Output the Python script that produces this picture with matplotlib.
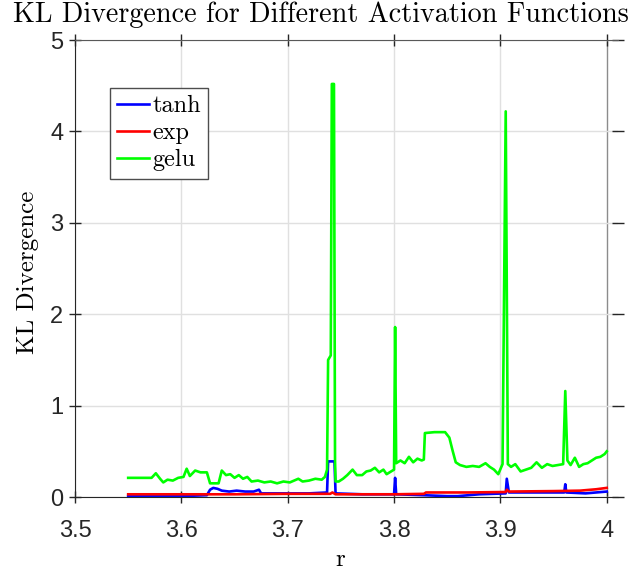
import numpy as np
import matplotlib.pyplot as plt

# values
tanh_r = [3.550, 3.600, 3.624, 3.627, 3.630, 3.634, 3.638, 3.645, 3.652, 3.660,
          3.668, 3.673, 3.675, 3.700, 3.720, 3.737, 3.738, 3.744, 3.745, 3.770,
          3.800, 3.801, 3.802, 3.828, 3.850, 3.860, 3.880, 3.905, 3.906, 3.908,
          3.930, 3.960, 3.961, 3.962, 3.980, 4.000]
tanh_kl = [0.01, 0.01, 0.02, 0.08, 0.10, 0.09, 0.07, 0.06, 0.07, 0.06,
           0.06, 0.08, 0.04, 0.04, 0.04, 0.05, 0.39, 0.39, 0.04, 0.03,
           0.03, 0.21, 0.03, 0.02, 0.01, 0.01, 0.03, 0.04, 0.20, 0.05,
           0.05, 0.05, 0.14, 0.05, 0.04, 0.06]

exp_r = [3.550, 3.650, 3.700, 3.740, 3.742, 3.745, 3.800, 3.828, 3.830, 3.870,
         3.905, 3.906, 3.908, 3.950, 3.975, 3.990, 4.000]
exp_kl = [0.03, 0.03, 0.035, 0.035, 0.05, 0.03, 0.03, 0.035, 0.05, 0.05,
          0.055, 0.08, 0.06, 0.065, 0.07, 0.085, 0.10]

gelu_r = [3.550, 3.572, 3.576, 3.580, 3.583, 3.587, 3.592, 3.597, 3.602, 3.605,
          3.608, 3.613, 3.618, 3.624, 3.627, 3.635, 3.638, 3.642, 3.646, 3.650,
          3.654, 3.658, 3.662, 3.666, 3.672, 3.678, 3.684, 3.690, 3.696, 3.702,
          3.710, 3.714, 3.720, 3.726, 3.732, 3.735, 3.737, 3.738, 3.739, 3.7405,
          3.7415, 3.7435, 3.7445, 3.745, 3.748, 3.752, 3.756, 3.761, 3.765, 3.770,
          3.774, 3.778, 3.782, 3.786, 3.790, 3.793, 3.800, 3.801, 3.802, 3.806,
          3.810, 3.814, 3.818, 3.822, 3.826, 3.828, 3.829, 3.838, 3.848, 3.852,
          3.855, 3.858, 3.862, 3.868, 3.874, 3.880, 3.886, 3.890, 3.894, 3.898,
          3.902, 3.905, 3.907, 3.910, 3.914, 3.919, 3.924, 3.929, 3.934, 3.939,
          3.944, 3.949, 3.954, 3.959, 3.961, 3.963, 3.966, 3.970, 3.974, 3.978,
          3.982, 3.986, 3.990, 3.994, 3.998, 4.000]
gelu_kl = [0.21, 0.21, 0.26, 0.20, 0.16, 0.19, 0.18, 0.21, 0.22, 0.31,
           0.23, 0.29, 0.27, 0.27, 0.15, 0.15, 0.29, 0.24, 0.25, 0.21,
           0.24, 0.20, 0.22, 0.17, 0.18, 0.16, 0.17, 0.15, 0.17, 0.16,
           0.20, 0.17, 0.18, 0.20, 0.19, 0.22, 0.30, 1.50, 1.52, 1.55,
           4.52, 4.52, 0.40, 0.17, 0.17, 0.20, 0.24, 0.30, 0.24, 0.24,
           0.28, 0.29, 0.32, 0.27, 0.30, 0.25, 0.30, 1.86, 0.37, 0.40,
           0.37, 0.44, 0.38, 0.42, 0.40, 0.41, 0.70, 0.71, 0.71, 0.65,
           0.51, 0.38, 0.35, 0.33, 0.34, 0.33, 0.37, 0.33, 0.30, 0.25,
           0.36, 4.22, 0.36, 0.33, 0.36, 0.28, 0.30, 0.32, 0.38, 0.32,
           0.36, 0.34, 0.35, 0.36, 1.16, 0.40, 0.35, 0.43, 0.33, 0.36,
           0.37, 0.40, 0.43, 0.44, 0.47, 0.50]

xticks = [3.5, 3.6, 3.7, 3.8, 3.9, 4.0]
xticklabels = ["3.5", "3.6", "3.7", "3.8", "3.9", "4"]
yticks = [0, 1, 2, 3, 4, 5]

cm = "cmr10"

fig = plt.figure(figsize=(6.34, 5.70), dpi=100)
ax = fig.add_axes([0.1183, 0.128, 0.856, 0.8017])

ax.plot(tanh_r, tanh_kl, color=(0, 0, 1), lw=1.9, label="tanh")
ax.plot(exp_r, exp_kl, color=(1, 0, 0), lw=1.9, label="exp")
ax.plot(gelu_r, gelu_kl, color=(0, 1, 0), lw=1.9, label="gelu")

ax.set_xlim(3.5, 4.0103)
ax.set_ylim(0, 5)
ax.set_xticks(xticks)
ax.set_xticklabels(xticklabels)
ax.set_yticks(yticks)
ax.grid(True, color="0.88", lw=1)
gl = ax.get_xgridlines()
gl[-1].set_color("0.55")

for lab in ax.get_xticklabels() + ax.get_yticklabels():
    lab.set_fontfamily("Liberation Sans")
    lab.set_fontsize(17)
    lab.set_color("0.15")
ax.tick_params(axis="both", direction="inout", length=9, width=1, color="0.15",
               top=True, right=True, pad=4)
ax.tick_params(axis="x", pad=12)
ax.spines["right"].set_visible(False)
ax.spines["top"].set_color("0.35")
ax.spines["left"].set_color("0.15")
ax.spines["bottom"].set_color("0.15")

fig.text(0.506, 0.998, "KL Divergence for Different Activation Functions",
         fontname=cm, fontsize=20.3, ha="center", va="top")
fig.text(0.044, 0.523, "KL Divergence", fontname=cm, fontsize=18,
         rotation=90, ha="center", va="center")
fig.text(0.536, 0.018, "r", fontname=cm, fontsize=18, ha="center", va="center")

leg = ax.legend(loc="upper left", bbox_to_anchor=(110 / 634, 1 - 88 / 570),
                bbox_transform=fig.transFigure, prop={"family": cm, "size": 17.5},
                fancybox=False, framealpha=1, edgecolor="0.3", handlelength=1.3,
                handletextpad=0.15, labelspacing=0.2, borderpad=0.3,
                borderaxespad=0)
leg.get_frame().set_linewidth(1)

fig.savefig("out.png", dpi=100)
